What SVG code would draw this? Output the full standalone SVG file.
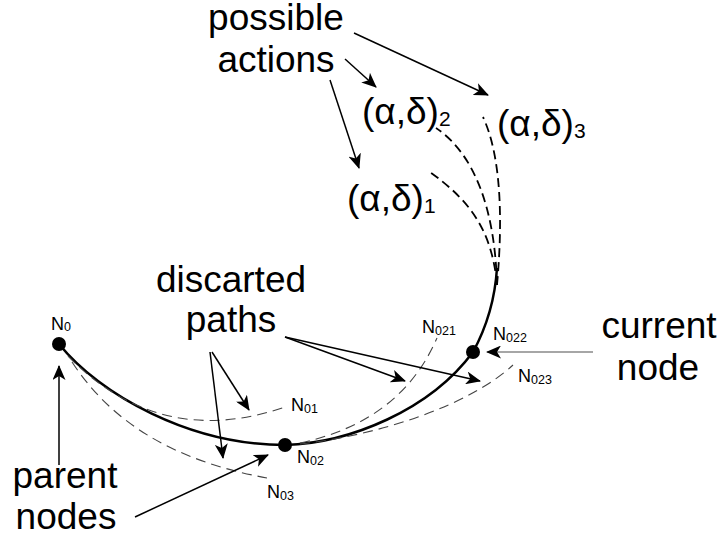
<svg xmlns="http://www.w3.org/2000/svg" width="722" height="535" viewBox="0 0 722 535">
<style>
.big{font-family:"Liberation Sans",Arial,sans-serif;font-size:37px;fill:#000}
.lbl{font-family:"Liberation Sans",Arial,sans-serif;font-size:18px;fill:#000}
.sub{font-size:12.5px}
.bsub{font-size:21px}
.arr{stroke:#000;stroke-width:1.5;fill:none;marker-end:url(#ah)}
.main{stroke:#000;stroke-width:2.5;fill:none}
.dash{stroke:#444;stroke-width:1.1;fill:none;stroke-dasharray:10 6}
.dash2{stroke:#000;stroke-width:1.8;fill:none;stroke-dasharray:9 5}
.node{fill:#000}
</style>
<defs>
<marker id="ah" markerUnits="userSpaceOnUse" markerWidth="15" markerHeight="13" viewBox="0 0 15 13" refX="14" refY="6.5" orient="auto">
<path d="M0,0 L15,6.5 L0,13 L4,6.5 z" fill="#000"/>
</marker>
</defs>
<g id="connectors">
<path class="main" d="M59,344 C100,395 190,445 285,445"/>
<path class="main" d="M285,445 C350,443 430,410 473,352 C485,330 495,300 497,268"/>
<path class="dash" d="M68,356 Q160,450 285,407"/>
<path class="dash" d="M72,362 C110,420 170,460 267,478"/>
<path class="dash" d="M300,443 C360,430 410,400 437,338"/>
<path class="dash" d="M300,444 C380,435 470,405 513,365"/>
<path class="dash2" d="M497,285 C492,230 470,200 427,170"/>
<path class="dash2" d="M497,285 C495,212 476,155 436,128"/>
<path class="dash2" d="M497,285 C502,230 503,160 483,117"/>
<line class="arr" x1="354" y1="33" x2="488" y2="95"/>
<line class="arr" x1="345" y1="59" x2="376" y2="87"/>
<line class="arr" x1="330" y1="80" x2="359" y2="168"/>
<line class="arr" x1="212" y1="352" x2="249" y2="410"/>
<line class="arr" x1="210" y1="352" x2="223" y2="458"/>
<line class="arr" x1="285" y1="337" x2="405" y2="381"/>
<line class="arr" x1="285" y1="337" x2="480" y2="381"/>
<line class="arr" x1="59" y1="465" x2="59" y2="366"/>
<line class="arr" x1="135" y1="517" x2="268" y2="455"/>
<line class="arr" x1="593" y1="352" x2="487" y2="352" style="stroke:#888"/>
</g>
<g id="N0"><circle class="node" cx="59" cy="344" r="7"/><text class="lbl" x="51" y="330">N<tspan class="sub" dy="1">0</tspan></text></g>
<g id="N01"><text class="lbl" x="291" y="411">N<tspan class="sub" dy="2">01</tspan></text></g>
<g id="N02"><circle class="node" cx="285" cy="445" r="7"/><text class="lbl" x="297" y="463">N<tspan class="sub" dy="2">02</tspan></text></g>
<g id="N03"><text class="lbl" x="267" y="498">N<tspan class="sub" dy="2">03</tspan></text></g>
<g id="N021"><text class="lbl" x="422" y="333">N<tspan class="sub" dy="2">021</tspan></text></g>
<g id="N022"><circle class="node" cx="473" cy="352" r="7"/><text class="lbl" x="493" y="340">N<tspan class="sub" dy="2">022</tspan></text></g>
<g id="N023"><text class="lbl" x="518" y="382">N<tspan class="sub" dy="2">023</tspan></text></g>
<g id="possible-actions"><text class="big" text-anchor="middle"><tspan x="276" y="30">possible</tspan><tspan x="276" y="72">actions</tspan></text></g>
<g id="action2"><text class="big" x="362" y="124">(α,δ)<tspan class="bsub" dy="2">2</tspan></text></g>
<g id="action3"><text class="big" x="497" y="136">(α,δ)<tspan class="bsub" dy="2">3</tspan></text></g>
<g id="action1"><text class="big" x="347" y="211">(α,δ)<tspan class="bsub" dy="2">1</tspan></text></g>
<g id="discarted-paths"><text class="big" text-anchor="middle"><tspan x="231" y="292">discarted</tspan><tspan x="231" y="332">paths</tspan></text></g>
<g id="parent-nodes"><text class="big" text-anchor="middle"><tspan x="65" y="488">parent</tspan><tspan x="66" y="529">nodes</tspan></text></g>
<g id="current-node"><text class="big" text-anchor="middle"><tspan x="659" y="338">current</tspan><tspan x="658" y="380">node</tspan></text></g>
</svg>
